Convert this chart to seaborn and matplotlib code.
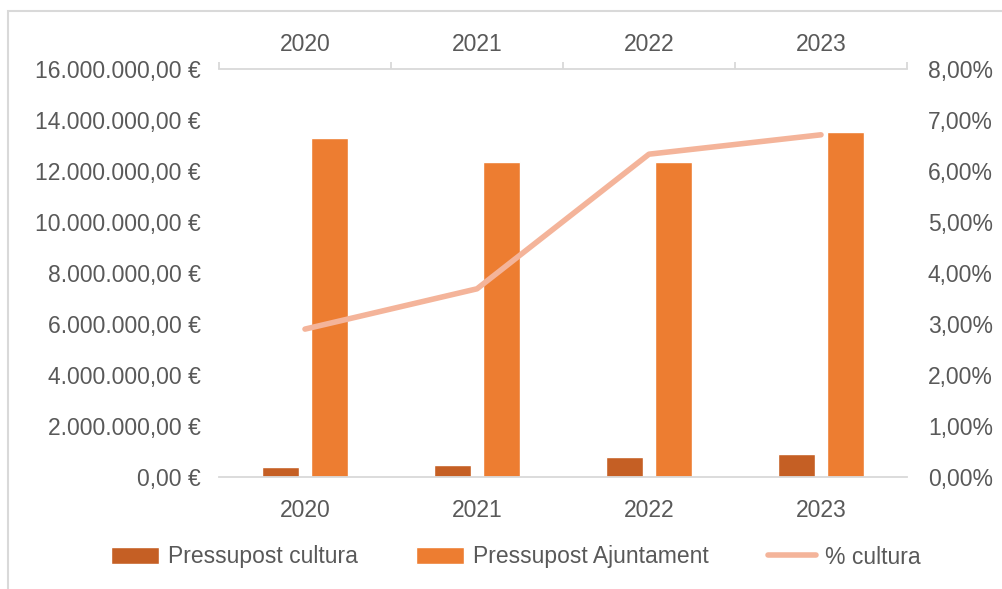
import numpy as np
import pandas as pd
import matplotlib
matplotlib.use("Agg")
import matplotlib.pyplot as plt
from matplotlib.patches import Rectangle
import seaborn as sns

# dades
anys = ["2020", "2021", "2022", "2023"]
pressupost_cultura = [390000, 460000, 780000, 900000]
pressupost_ajuntament = [13290000, 12350000, 12350000, 13530000]
pct_cultura = [2.90, 3.69, 6.33, 6.71]
series = ["Pressupost cultura", "Pressupost Ajuntament"]

FOSC, TARONJA, CLAR = "#C55F24", "#ED7D31", "#F4B49A"
GRIS, LINIA = "#595959", "#D9D9D9"
FS = 16.5

sns.set_theme(style="white")
plt.rcParams["font.family"] = ["Liberation Sans", "DejaVu Sans"]
plt.rcParams["font.size"] = FS

df = pd.DataFrame({
    "any": anys * 2,
    "serie": [series[0]] * 4 + [series[1]] * 4,
    "valor": pressupost_cultura + pressupost_ajuntament,
})

fig = plt.figure(figsize=(10.03, 5.89), dpi=100)
ax = fig.add_axes([219 / 1003, 1 - 477 / 589, (907 - 219) / 1003, (477 - 69) / 589])

sns.barplot(data=df, x="any", y="valor", hue="serie", hue_order=series,
            palette=[FOSC, TARONJA], width=0.56, gap=0.23, ax=ax, saturation=1)
ax.set_xlim(-0.5, 3.5)
ax.set_ylim(0, 16000000)
ax.set_yticks(np.arange(0, 16000001, 2000000))

def euros(v, _=None):
    s = f"{v:,.2f}".replace(",", "X").replace(".", ",").replace("X", ".")
    return s + " €"

ax.yaxis.set_major_formatter(plt.FuncFormatter(euros))
ax.set_xlabel(""); ax.set_ylabel("")

ax2 = ax.twinx()
sns.lineplot(x=np.arange(len(anys)), y=pct_cultura, color=CLAR, lw=4,
             ax=ax2, label="% cultura")
ax2.set_ylim(0, 8)
ax2.set_yticks(np.arange(0, 9, 1))
ax2.yaxis.set_major_formatter(plt.FuncFormatter(lambda v, _: f"{v:.2f}%".replace(".", ",")))
ax2.set_xlim(-0.5, 3.5)

# eixos
for a in (ax, ax2):
    for s in ("left", "right", "top", "bottom"):
        a.spines[s].set_visible(False)
ax.spines["bottom"].set_visible(True)
ax.spines["bottom"].set_color(LINIA)
ax.spines["bottom"].set_linewidth(1.3)

ax.set_xticks(np.arange(-0.5, 4, 1), minor=True)
ax.tick_params(axis="x", which="major", length=0, labelcolor=GRIS, pad=15.5, labelsize=FS)
ax.tick_params(axis="x", which="minor", length=6, width=1.3, color=LINIA, direction="out")
ax.tick_params(axis="y", length=0, labelcolor=GRIS, pad=13, labelsize=FS)
ax2.tick_params(axis="y", length=0, labelcolor=GRIS, pad=15, labelsize=FS)
ax2.set_ylabel("")

# eix superior
sup = ax.secondary_xaxis("top")
sup.set_xticks(np.arange(len(anys)), labels=anys)
sup.set_xticks(np.arange(-0.5, 4, 1), minor=True)
sup.tick_params(axis="x", which="major", length=0, labelcolor=GRIS, pad=9, labelsize=FS)
sup.tick_params(axis="x", which="minor", length=5, width=1.3, color=LINIA, direction="out")
sup.spines["top"].set_color(LINIA)
sup.spines["top"].set_linewidth(1.3)

# llegenda
h1, l1 = ax.get_legend_handles_labels()
h2, l2 = ax2.get_legend_handles_labels()
if ax.get_legend():
    ax.get_legend().remove()
if ax2.get_legend():
    ax2.get_legend().remove()
fig.legend(h1 + h2, l1 + l2, loc="center", bbox_to_anchor=(0.514, 1 - 557 / 589),
           ncol=3, frameon=False, handlelength=2.1, handleheight=0.7,
           handletextpad=0.4, columnspacing=2.55, labelcolor=GRIS, fontsize=FS)

fig.patches.append(Rectangle((8 / 1003, -0.1), 1.2, 1.1 - 11 / 589, transform=fig.transFigure,
                             fill=False, edgecolor=LINIA, lw=1.5))

fig.savefig("out.png", dpi=100)
